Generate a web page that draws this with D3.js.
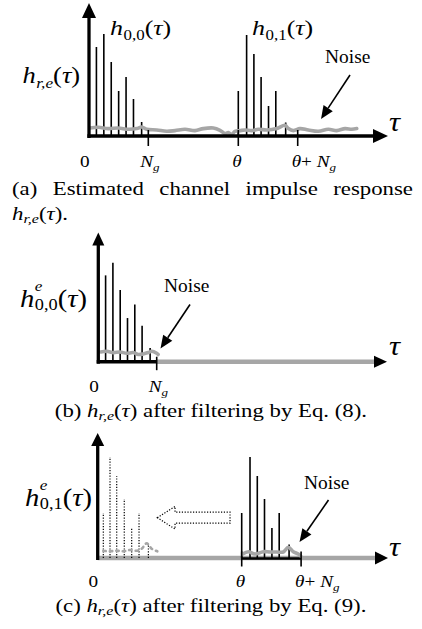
<!DOCTYPE html>
<html><head><meta charset="utf-8">
<script src="https://cdn.jsdelivr.net/npm/d3@7"></script>
<style>html,body{margin:0;padding:0;background:#fff;} svg{display:block;} text{font-family:"Liberation Serif","Times New Roman",Times,serif; white-space:pre;}</style>
</head><body>
<script>
// ---------------- data ----------------
const theta = 20, Ng = 8;
const h00Tau = [1, 2, 3, 4, 5, 6, 7.1];
const h00Amp = [89, 102, 74, 45, 59, 37, 14];
const h01Off = [0, 1.12, 2.1, 3.07, 4.07, 5.05, 6.38];
const h01Amp = [45, 101, 82, 59, 30, 45, 13.5];
const ghostTau = [0.78, 1.71, 2.64, 3.69, 4.72, 5.74, 7.04];
const noiseATau = [0.13,1.25,2.6,3.95,5.3,6.44,7.1,7.78,9.12,10.45,11.56,12.9,14.23,15.33,16.67,17.56,18.23,18.67,19.12,19.56,20.23,20.9,21.8,22.7,23.83,25.17,26.29,26.74,27.41,28.31,29.43,30.78,32.12,33.26,34.38,35.28,35.95];
const noiseAAmp = [8,8.7,7.4,8,6.7,7.4,9,6.7,6,4.7,5.4,6.7,5.4,7.4,8,5.7,2.4,3.4,1.4,4.7,5.4,6,5.4,6.7,6,7.4,10.7,7.4,5.4,7.4,6,4.7,6.7,5.4,7.4,6.7,7.4];
const noiseBTau = [0.33,1.15,2.06,2.97,3.89,4.8,5.48,6.16,6.85,7.32,8.0,8.2];
const noiseBAmp = [10,10.7,9.4,10,8.7,9.4,7.4,8,9.4,10.7,8.7,7.4];
const noiseCTau = [20.13,20.89,21.79,22.91,23.81,24.71,25.6,26.28,26.95,27.62,27.95];
const noiseCAmp = [4,6.3,4,6.3,6,6,6,10.7,6.3,4,2];
const ghostNoiseTau = [0.78,1.71,2.64,3.56,4.49,5.42,6.11,6.8,7.5,8.28];
const ghostNoiseAmp = [7.3,6.7,7.3,6.7,8,7.3,9.3,14.7,9.3,6.7];
const tickLabelsA = ["0", "N_g", "θ", "θ+ N_g"];
const tickLabelsB = ["0", "N_g"];
const tickLabelsC = ["0", "θ", "θ+ N_g"];
const noiseLabel = "Noise";
const captionA1 = ["(a)", "Estimated", "channel", "impulse", "response"];
const captionB = ["(b)\u00A0", "h|r,e", "(τ)", "\u00A0after filtering by Eq. (8)."];
const captionC = ["(c)\u00A0", "h|r,e", "(τ)", "\u00A0after filtering by Eq. (9)."];

// ---------------- helpers ----------------
const FONT = '"Liberation Serif","Times New Roman",Times,serif';
const GRAY = '#a6a6a6';
const svg = d3.select('body').append('svg').attr('width', 422).attr('height', 629);

// one <text> element built from positioned tspans
function rich(x, y, segs, opt) {
  opt = opt || {};
  const sx = opt.sx || 1, anchor = opt.anchor || 'start';
  const g = svg.append('g');
  const text = g.append('text').style('font-family', FONT).attr('fill', '#000');
  let cx = 0;
  segs.forEach(s => {
    const t = text.append('tspan').attr('x', cx + (s.dx || 0)).attr('y', s.dy || 0)
      .attr('font-size', s.fs).attr('font-style', s.it ? 'italic' : 'normal').text(s.t);
    const w = t.node().getComputedTextLength();
    if (!s.noAdv) cx += w + (s.gap || 0);
  });
  const off = anchor === 'end' ? -cx * sx : anchor === 'middle' ? -cx * sx / 2 : 0;
  g.attr('transform', `translate(${x + off},${y}) scale(${sx},1)`);
  return cx * sx;
}
function tickSegs(lbl, fs) {
  const segs = [];
  const parts = lbl.split('_');
  for (const ch of parts[0]) {
    const it = /[A-Za-zθ]/.test(ch);
    segs.push({t: ch === ' ' ? '\u00A0' : ch, fs: fs, it: it});
  }
  if (parts[1]) segs.push({t: parts[1], fs: fs * 0.68, it: true, dy: 4});
  return segs;
}
function mathH(sub, fs, sup) {
  const segs = [{t: 'h', fs: fs, it: true, gap: 0.5}];
  if (sup) {
    segs.push({t: sup, fs: fs * 0.6, it: true, dy: -fs * 0.58, noAdv: true});
    segs.push({t: sub, fs: fs * 0.64, it: false, dy: fs * 0.12});
  } else {
    segs.push({t: sub, fs: fs * 0.65, it: false, dy: fs * 0.22});
  }
  segs.push({t: '(', fs: fs}, {t: 'τ', fs: fs, it: true}, {t: ')', fs: fs});
  return segs;
}
function captionSegs(arr, fs) {
  const segs = [];
  arr.forEach(p => {
    if (p.startsWith('h|')) {
      segs.push({t: 'h', fs: fs, it: true});
      segs.push({t: p.slice(2), fs: fs * 0.7, it: true, dy: fs * 0.2});
    } else if (p === '(τ)') {
      segs.push({t: '(', fs: fs}, {t: 'τ', fs: fs, it: true}, {t: ')', fs: fs});
    } else segs.push({t: p, fs: fs});
  });
  return segs;
}
function tri(pts, fill) {
  svg.append('path').attr('d', 'M' + pts.map(p => p.join(',')).join('L') + 'Z').attr('fill', fill || '#000');
}
function axes(x0, y0, yTop, xEnd, hl, hw) {
  svg.append('line').attr('x1', x0).attr('x2', x0).attr('y1', y0 + 2).attr('y2', yTop + hl - 1)
    .attr('stroke', '#000').attr('stroke-width', 3.3);
  tri([[x0, yTop], [x0 - hw / 2, yTop + hl], [x0 + hw / 2, yTop + hl]]);
  tri([[xEnd, y0], [xEnd - hl, y0 - hw / 2], [xEnd - hl, y0 + hw / 2]]);
}
function pointerArrow(x1, y1, x2, y2) {
  const a = Math.atan2(y2 - y1, x2 - x1), L = 13, W = 5.5;
  const bx = x2 - L * Math.cos(a), by = y2 - L * Math.sin(a);
  svg.append('line').attr('x1', x1).attr('y1', y1).attr('x2', bx).attr('y2', by)
    .attr('stroke', '#000').attr('stroke-width', 1.6);
  tri([[x2, y2], [bx + W * Math.sin(a), by - W * Math.cos(a)], [bx - W * Math.sin(a), by + W * Math.cos(a)]]);
}
function stems(xs, ys, amps, taus, style) {
  svg.append('g').selectAll('line').data(taus.map((t, i) => [t, amps[i]])).join('line')
    .attr('x1', d => xs(d[0])).attr('x2', d => xs(d[0]))
    .attr('y1', ys(0)).attr('y2', d => ys(d[1]))
    .attr('stroke', '#000').attr('stroke-width', style === 'dot' ? 1.2 : 1.6)
    .attr('stroke-dasharray', style === 'dot' ? '1.2,1.6' : null);
}
function noise(xs, ys, taus, amps, dotted) {
  const line = d3.line().x(d => xs(d[0])).y(d => ys(d[1])).curve(d3.curveCatmullRom);
  svg.append('path').attr('d', line(taus.map((t, i) => [t, amps[i]])))
    .attr('fill', 'none').attr('stroke', GRAY).attr('stroke-width', dotted ? 2.6 : 3.6)
    .attr('stroke-linecap', 'round').attr('stroke-linejoin', 'round')
    .attr('stroke-dasharray', dotted ? '2.5,4' : null);
}
function ticks(xs, y0, taus, up, down, w) {
  svg.append('g').selectAll('line').data(taus).join('line')
    .attr('x1', d => xs(d)).attr('x2', d => xs(d)).attr('y1', y0 - up).attr('y2', y0 + down)
    .attr('stroke', '#000').attr('stroke-width', w || 1.6);
}
function tickLabels(xs, base, taus, labels) {
  taus.forEach((t, i) => {
    const lbl = labels[i];
    if (lbl === '0') rich(xs(t) + 0.5, base, tickSegs(lbl, 16), {sx: 1.2, anchor: 'end'});
    else rich(xs(t) - (lbl.startsWith('N') ? 8 : 6), base, tickSegs(lbl, 16), {sx: 1.2});
  });
}
function tauLabel(x, y) { rich(x, y, [{t: 'τ', fs: 28, it: true}], {sx: 1.1}); }

// ---------------- panel (a) ----------------
{
  const x0 = 89, y0 = 136;
  const xs = d3.scaleLinear().domain([0, Ng, theta, theta + Ng]).range([89, 148.3, 238.3, 297.7]);
  const ys = d3.scaleLinear().domain([0, 100]).range([y0, y0 - 100]);
  stems(xs, ys, h00Amp, h00Tau);
  stems(xs, ys, h01Amp, h01Off.map(o => theta + o));
  noise(xs, ys, noiseATau, noiseAAmp);
  svg.append('line').attr('x1', x0 - 1.6).attr('x2', 376).attr('y1', y0).attr('y2', y0)
    .attr('stroke', '#000').attr('stroke-width', 3.5);
  ticks(xs, y0, [Ng, theta, theta + Ng], 6, 10);
  axes(x0, y0, 3, 388, 15, 14);
  tauLabel(389, 131);
  tickLabels(xs, 167, [0, Ng, theta, theta + Ng], tickLabelsA);
  rich(110, 35, mathH('0,0', 22), {sx: 1.18});
  rich(252, 35, mathH('0,1', 22), {sx: 1.18});
  rich(22.5, 83, [{t: 'h', fs: 23, it: true, gap: 0.5}, {t: 'r,e', fs: 15, it: true, dy: 5}, {t: '(', fs: 23}, {t: 'τ', fs: 23, it: true}, {t: ')', fs: 23}], {sx: 1.15});
  rich(325, 63, [{t: noiseLabel, fs: 18}], {sx: 1.08});
  pointerArrow(350, 75, 321, 119);
}

// ---------------- caption (a) ----------------
{
  const fs = 19, sx = 1.2, left = 12, right = 413, base = 194.5;
  const tmp = svg.append('text').style('font-family', FONT).attr('font-size', fs);
  const ws = captionA1.map(w => { tmp.text(w); return tmp.node().getComputedTextLength() * sx; });
  tmp.remove();
  const gap = (right - left - d3.sum(ws)) / (captionA1.length - 1);
  let cx = left;
  captionA1.forEach((w, i) => { rich(cx, base, [{t: w, fs: fs}], {sx: sx}); cx += ws[i] + gap; });
  rich(12, 219.5, captionSegs(['h|r,e', '(τ)', '.'], fs), {sx: sx});
}

// ---------------- panel (b) ----------------
{
  const x0 = 98.3, y0 = 361.7;
  const xs = d3.scaleLinear().domain([0, Ng]).range([98.3, 156.7]);
  const ys = d3.scaleLinear().domain([0, 100]).range([y0, y0 - 97]);
  stems(xs, ys, h00Amp, h00Tau);
  noise(xs, ys, noiseBTau, noiseBAmp);
  svg.append('line').attr('x1', xs(Ng)).attr('x2', 376).attr('y1', y0).attr('y2', y0)
    .attr('stroke', GRAY).attr('stroke-width', 4.4);
  svg.append('line').attr('x1', x0 - 1.6).attr('x2', xs(Ng)).attr('y1', y0).attr('y2', y0)
    .attr('stroke', '#000').attr('stroke-width', 3.5);
  ticks(xs, y0, [Ng], 5, 8.5);
  axes(x0, y0, 232.5, 387, 13, 12);
  tauLabel(389, 355);
  tickLabels(xs, 392, [0, Ng], tickLabelsB);
  rich(20, 306.5, mathH('0,0', 26, 'e'), {sx: 1.1});
  rich(164, 292, [{t: noiseLabel, fs: 18}], {sx: 1.08});
  pointerArrow(190, 304.5, 160.5, 348.5);
  rich(211, 416.5, captionSegs(captionB, 19), {sx: 1.2, anchor: 'middle'});
}

// ---------------- panel (c) ----------------
{
  const x0 = 97.7, y0 = 558;
  const xs = d3.scaleLinear().domain([0, theta, theta + Ng]).range([97.7, 241.7, 301.1]);
  const ys = d3.scaleLinear().domain([0, 100]).range([y0, y0 - 100]);
  svg.append('line').attr('x1', x0).attr('x2', 376).attr('y1', y0).attr('y2', y0)
    .attr('stroke', GRAY).attr('stroke-width', 4.4);
  stems(xs, ys, h01Amp, ghostTau, 'dot');
  noise(xs, ys, ghostNoiseTau, ghostNoiseAmp, true);
  // hollow dotted shift arrow (pointing left)
  const tipT = 8.28, headT = 10.74, tailT = 18.38, cA = 40.3, hH = 11.3, bH = 5.5;
  const pts = [[xs(tipT), ys(cA)], [xs(headT), ys(cA + hH)], [xs(headT), ys(cA + bH)], [xs(tailT), ys(cA + bH)],
               [xs(tailT), ys(cA - bH)], [xs(headT), ys(cA - bH)], [xs(headT), ys(cA - hH)]];
  svg.append('path').attr('d', 'M' + pts.map(p => p.join(',')).join('L') + 'Z')
    .attr('fill', 'none').attr('stroke', '#000').attr('stroke-width', 1.2).attr('stroke-dasharray', '1.2,1.6');
  stems(xs, ys, h01Amp, h01Off.map(o => theta + o));
  svg.append('line').attr('x1', xs(theta)).attr('x2', xs(theta + Ng)).attr('y1', y0 + 0.5).attr('y2', y0 + 0.5)
    .attr('stroke', '#000').attr('stroke-width', 2.6);
  noise(xs, ys, noiseCTau, noiseCAmp);
  ticks(xs, y0, [theta, theta + Ng], 6.5, 8.5);
  axes(x0, y0, 433, 388, 13, 13);
  tauLabel(389, 556);
  tickLabels(xs, 587, [0, theta, theta + Ng], tickLabelsC);
  rich(25, 505.5, mathH('0,1', 26, 'e'), {sx: 1.1});
  rich(304, 488.5, [{t: noiseLabel, fs: 18}], {sx: 1.08});
  pointerArrow(328.5, 500, 299.5, 542);
  rich(211, 611.5, captionSegs(captionC, 19), {sx: 1.2, anchor: 'middle'});
}
</script>
</body></html>
